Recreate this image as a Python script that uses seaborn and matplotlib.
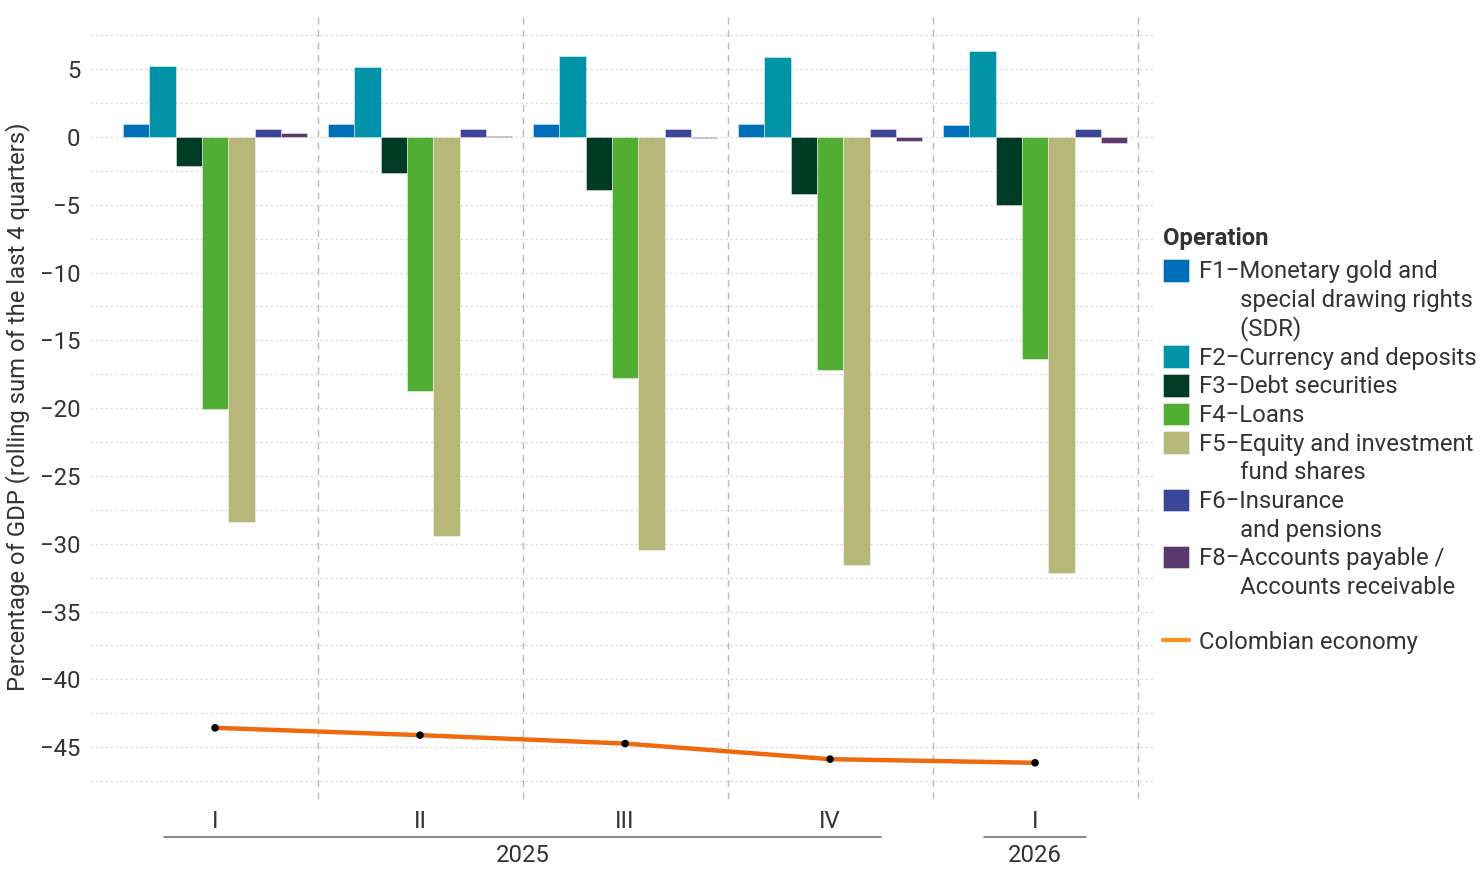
import numpy as np
import pandas as pd
import matplotlib
matplotlib.use("Agg")
import matplotlib.pyplot as plt
import matplotlib.transforms as mtransforms
from matplotlib.patches import Patch
from matplotlib.lines import Line2D
import seaborn as sns

# ---- data ----
quarters = ["I", "II", "III", "IV", "I"]
years = ["2025", "2025", "2025", "2025", "2026"]
operations = [
    "F1\u2212Monetary gold and\n       special drawing rights\n       (SDR)",
    "F2\u2212Currency and deposits",
    "F3\u2212Debt securities",
    "F4\u2212Loans",
    "F5\u2212Equity and investment\n       fund shares",
    "F6\u2212Insurance\n       and pensions",
    "F8\u2212Accounts payable /\n       Accounts receivable",
]
f1 = [0.94, 0.93, 0.93, 0.93, 0.88]
f2 = [5.24, 5.14, 6.00, 5.92, 6.32]
f3 = [-2.14, -2.68, -3.91, -4.23, -5.01]
f4 = [-20.06, -18.73, -17.77, -17.18, -16.37]
f5 = [-28.40, -29.42, -30.46, -31.56, -32.15]
f6 = [0.57, 0.57, 0.57, 0.57, 0.57]
f8 = [0.27, 0.07, -0.07, -0.32, -0.42]
colombian_economy = [-43.58, -44.12, -44.74, -45.89, -46.16]

colors = ["#006FB9", "#0093A7", "#003B26", "#52AE32", "#B7B77A", "#3C4698", "#5C3A6E"]
line_color = "#EE6A0F"

series = [f1, f2, f3, f4, f5, f6, f8]
period_ids = [f"{y}-{q}-{i}" for i, (y, q) in enumerate(zip(years, quarters))]
rows = []
for op, vals in zip(operations, series):
    for pid, v in zip(period_ids, vals):
        rows.append({"period": pid, "operation": op, "value": v})
df = pd.DataFrame(rows)
line_df = pd.DataFrame({"pos": np.arange(len(quarters)), "value": colombian_economy})

# ---- style ----
sns.set_theme(style="white")
plt.rcParams["font.family"] = ["Roboto", "DejaVu Sans"]
text_color = "#333333"
fs = 17.2

fig = plt.figure(figsize=(14.8, 8.8), dpi=100)
W, H = 1480, 880
ax = fig.add_axes([90 / W, 1 - 799 / H, (1155 - 90) / W, (799 - 15) / H])

sns.barplot(data=df, x="period", y="value", hue="operation", hue_order=operations,
            palette=colors, width=0.9, order=period_ids, ax=ax, legend=False,
            saturation=1, linewidth=0.6, edgecolor="#ffffff80")
sns.lineplot(data=line_df, x="pos", y="value", color=line_color, linewidth=3.2, ax=ax,
             legend=False, zorder=3)
sns.scatterplot(data=line_df, x="pos", y="value", color="black", s=30, ax=ax,
                zorder=4, edgecolor="none", legend=False)

ax.set_xlim(-0.61, 4.585)
ax.set_ylim(-48.83, 9.0)

# grid
ax.set_yticks(np.arange(-45, 6, 5))
ax.set_yticklabels([f"{v}".replace("-", "\u2212") for v in np.arange(-45, 6, 5)])
ax.grid(False)
for yv in np.arange(-47.5, 8, 2.5):
    ax.axhline(yv, color="#DDDDDD", lw=0.9, ls=(0, (2, 2)), zorder=0)
for xv in np.arange(0.5, len(quarters), 1.0):
    ax.axvline(xv, color="#BBBBBB", lw=1.0, ls=(0, (5, 4)), zorder=0)

ax.set_xticks(np.arange(len(quarters)))
ax.set_xticklabels(quarters)
ax.tick_params(axis="both", which="major", length=4, width=0.8, color="#AAAAAA",
               labelsize=fs, labelcolor=text_color, pad=3)
ax.tick_params(axis="x", pad=4)
for s in ax.spines.values():
    s.set_visible(False)
ax.set_xlabel("")
ax.set_ylabel("Percentage of GDP (rolling sum of the last 4 quarters)", fontsize=fs,
              color=text_color, labelpad=7)

# year annotation with underline
trans = mtransforms.blended_transform_factory(ax.transData, ax.transAxes)
uniq_years = list(dict.fromkeys(years))
for yr in uniq_years:
    idx = [i for i, y in enumerate(years) if y == yr]
    x0, x1 = min(idx) - 0.25, max(idx) + 0.25
    ax.plot([x0, x1], [-0.0485, -0.0485], transform=trans, color="#777777", lw=1.2,
            clip_on=False)
    ax.text((min(idx) + max(idx)) / 2, -0.0715, yr, transform=trans, ha="center",
            va="center", fontsize=fs, color=text_color)

# legend: one row per text line, handle on the first line of each entry
leg_handles, leg_labels = [], []
for c, op in zip(colors, operations):
    lines = op.split("\n")
    leg_handles.append(Patch(facecolor=c, edgecolor="#ffffff80", linewidth=0.6))
    leg_labels.append(lines[0])
    for extra in lines[1:]:
        leg_handles.append(Patch(facecolor="none", edgecolor="none"))
        leg_labels.append(extra)

lab_sp = 0.175
leg1 = fig.legend(leg_handles, leg_labels, title="Operation", loc="upper left",
                  bbox_to_anchor=(1158 / W, 1 - 222 / H), frameon=False, fontsize=fs,
                  title_fontproperties={"weight": "bold", "size": fs}, alignment="left",
                  handlelength=1.08, handleheight=1.08, handletextpad=0.45,
                  labelspacing=lab_sp, borderaxespad=0, borderpad=0.2, labelcolor=text_color)
leg1.get_title().set_color(text_color)
leg1._legend_box.sep = lab_sp * fs + 5 * 0.72
leg2 = fig.legend([Line2D([0], [0], color="#F7941D", lw=3)], ["Colombian economy"],
                  loc="upper left", bbox_to_anchor=(1158 / W, 1 - 626 / H), frameon=False,
                  fontsize=fs, handlelength=1.08, handletextpad=0.45, borderaxespad=0,
                  borderpad=0.2, labelcolor=text_color)

fig.savefig("out.png", dpi=100)
